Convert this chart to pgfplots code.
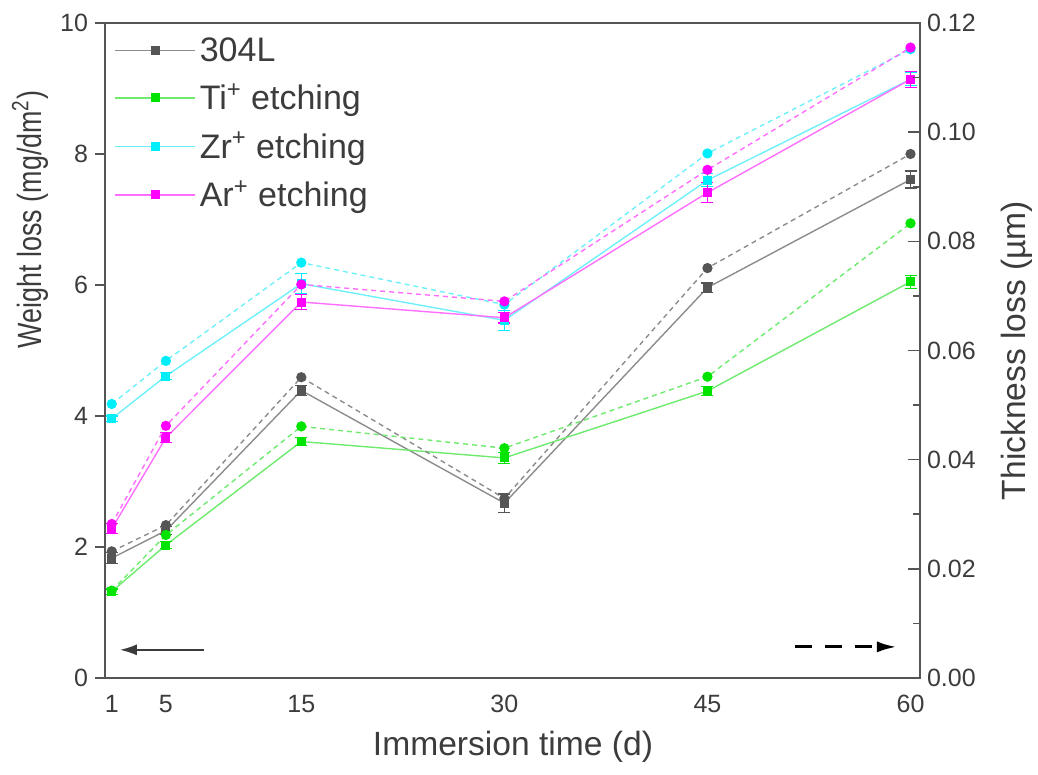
\documentclass[border=0pt]{standalone}
\usepackage{pgfplots}
\pgfplotsset{compat=1.18}
\usetikzlibrary{arrows.meta}
\usepackage{fontspec}
\setmainfont{Liberation Sans}
\definecolor{c304}{RGB}{85,85,85}
\definecolor{c304l}{RGB}{140,140,140}
\definecolor{cti}{RGB}{0,228,0}
\definecolor{ctil}{RGB}{110,235,110}
\definecolor{czr}{RGB}{0,238,250}
\definecolor{czrl}{RGB}{110,240,250}
\definecolor{car}{RGB}{255,0,255}
\definecolor{carl}{RGB}{255,110,255}
\definecolor{axc}{RGB}{85,85,85}
\definecolor{txt}{RGB}{60,60,60}
\begin{document}
\begin{tikzpicture}
\pgfplotsset{
 common/.style={scale only axis, width=407.5pt, height=327.5pt, at={(0,0)}, anchor=south west,
   xmin=0.5, xmax=60.7,
   axis line style={axc, line width=1pt},
   tick style={axc, line width=0.8pt},
   /pgf/number format/assume math mode=true,
   tick label style={font=\fontsize{12.5}{15}\selectfont, text=txt},
   label style={font=\fontsize{16.8}{20}\selectfont, text=txt},
 },
 wsolid/.style={line width=0.7pt, mark=square*, mark size=1.9pt,
   error bars/y dir=both, error bars/y explicit,
   error bars/error mark options={rotate=90, mark size=3pt, line width=0.6pt}},
 dott/.style={line width=0.7pt, dash pattern=on 2.5pt off 2pt, mark=*, mark size=2.2pt},
}
\begin{axis}[common, ymin=0, ymax=10,
  xtick={1,5,15,30,45,60}, ytick={0,2,4,6,8,10},
  xtick pos=bottom, ytick pos=left, tick align=outside, major tick length=5pt,
  major x tick style={draw=none},
  xlabel={Immersion time (d)}, ylabel={\scalebox{0.8}[1]{Weight loss (mg/dm\textsuperscript{2})}},
  xlabel style={at={(axis description cs:0.5006,-0.105)}, anchor=center},
  ylabel style={at={(axis description cs:-0.092,0.70)}, anchor=center},
  legend cell align=left,
  legend style={draw=none, fill=none, at={(axis description cs:0,1)}, anchor=north west,
     xshift=1.5pt, yshift=-3pt, font=\fontsize{17}{20}\selectfont, text=txt, row sep=5.6pt},
  legend image code/.code={\draw[mark repeat=2,mark phase=2,#1] plot coordinates {(0pt,0pt) (20pt,0pt) (40pt,0pt)};},
]
\addplot[wsolid, color=c304l, mark options={c304, fill=c304}, error bars/error bar style={c304, line width=0.6pt}] coordinates {
 (1,1.83) +- (0,0.08) (5,2.25) +- (0,0.06) (15,4.39) +- (0,0.08) (30,2.67) +- (0,0.14) (45,5.96) +- (0,0.07) (60,7.61) +- (0,0.13)};
\addlegendentry{304L}
\addplot[wsolid, color=ctil, mark options={cti, fill=cti}, error bars/error bar style={cti, line width=0.6pt}] coordinates {
 (1,1.32) +- (0,0.04) (5,2.03) +- (0,0.05) (15,3.61) +- (0,0.06) (30,3.36) +- (0,0.08) (45,4.38) +- (0,0.07) (60,6.05) +- (0,0.10)};
\addlegendentry{Ti\textsuperscript{+} etching}
\addplot[wsolid, color=czrl, mark options={czr, fill=czr}, error bars/error bar style={czr, line width=0.6pt}] coordinates {
 (1,3.96) +- (0,0.04) (5,4.61) +- (0,0.05) (15,6.02) +- (0,0.15) (30,5.46) +- (0,0.15) (45,7.60) +- (0,0.10) (60,9.14) +- (0,0.10)};
\addlegendentry{Zr\textsuperscript{+} etching}
\addplot[wsolid, color=carl, mark options={car, fill=car}, error bars/error bar style={car, line width=0.6pt}] coordinates {
 (1,2.28) +- (0,0.08) (5,3.67) +- (0,0.08) (15,5.74) +- (0,0.12) (30,5.50) +- (0,0.08) (45,7.41) +- (0,0.15) (60,9.14) +- (0,0.12)};
\addlegendentry{Ar\textsuperscript{+} etching}
\draw[c304!70!black, line width=1pt, -{Latex[length=8.5pt, width=5.5pt]}] (axis cs:7.83,0.43) -- (axis cs:1.59,0.43);
\draw[black, line width=1.6pt, dash pattern=on 8.5pt off 6.5pt, -{Latex[length=10pt, width=5.5pt]}] (axis cs:51.5,0.475) -- (axis cs:59.0,0.475);
\end{axis}
\begin{axis}[common, ymin=0, ymax=0.12,
  axis y line*=right, axis x line=none,
  ytick={0,0.02,0.04,0.06,0.08,0.10,0.12}, minor y tick num=1,
  tick align=inside, major tick length=6pt, minor tick length=3.5pt,
  yticklabel style={/pgf/number format/.cd, fixed, fixed zerofill, precision=2},
  ylabel={Thickness loss (µm)},
  ylabel style={at={(axis description cs:1.119,0.5)}, anchor=center},
]
\addplot[dott, color=c304l, mark options={solid, c304, fill=c304}] coordinates {
 (1,0.0232) (5,0.0280) (15,0.0551) (30,0.0329) (45,0.0751) (60,0.0960)};
\addplot[dott, color=ctil, mark options={solid, cti, fill=cti}] coordinates {
 (1,0.0160) (5,0.0262) (15,0.0461) (30,0.0421) (45,0.0552) (60,0.0833)};
\addplot[dott, color=czrl, mark options={solid, czr, fill=czr}] coordinates {
 (1,0.0502) (5,0.0581) (15,0.0761) (30,0.0684) (45,0.0961) (60,0.1152)};
\addplot[dott, color=carl, mark options={solid, car, fill=car}] coordinates {
 (1,0.0282) (5,0.0462) (15,0.0721) (30,0.0690) (45,0.0931) (60,0.1155)};
\end{axis}
\pgfresetboundingbox
\path (-52.5pt,-48.5pt) rectangle (466.5pt,339pt);
\end{tikzpicture}
\end{document}
